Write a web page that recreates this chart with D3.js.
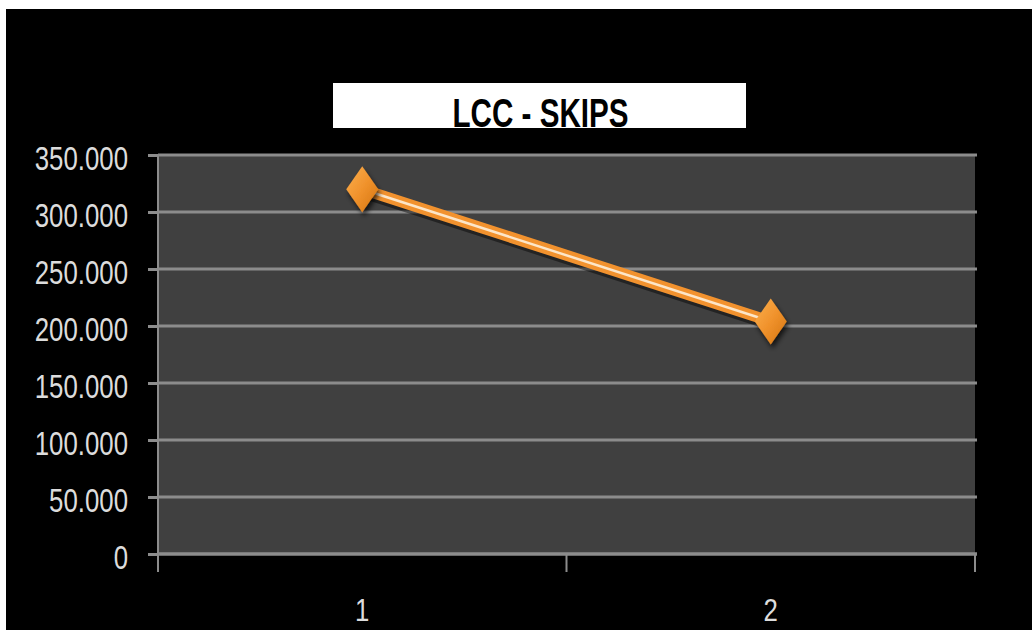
<!DOCTYPE html>
<html>
<head>
<meta charset="utf-8">
<script src="https://cdn.jsdelivr.net/npm/d3@7"></script>
<style>
  html, body { margin: 0; padding: 0; background: #ffffff; }
  svg { display: block; }
</style>
</head>
<body>
<svg id="chart" width="1032" height="630"></svg>
<script>
// Chart data
const categories = ["1", "2"];
const skips = [320000, 204000];
const yTicks = [0, 50000, 100000, 150000, 200000, 250000, 300000, 350000];
const yTickLabels = ["0", "50.000", "100.000", "150.000", "200.000", "250.000", "300.000", "350.000"];
const chartTitle = "LCC - SKIPS";

const svg = d3.select("#chart");
const W = 1032, H = 630;
const plot = { left: 158, right: 975, top: 155, bottom: 554 };

// Black page background
svg.append("rect").attr("x", 6).attr("y", 9).attr("width", W - 6).attr("height", H - 9).attr("fill", "#000");

const defs = svg.append("defs");
const grad = defs.append("linearGradient").attr("id", "diamondFill")
  .attr("x1", "0%").attr("y1", "0%").attr("x2", "100%").attr("y2", "100%");
grad.append("stop").attr("offset", "0%").attr("stop-color", "#fbb04e");
grad.append("stop").attr("offset", "50%").attr("stop-color", "#f0922c");
grad.append("stop").attr("offset", "100%").attr("stop-color", "#d4740f");
const shadow = defs.append("filter").attr("id", "shadow").attr("x", "-50%").attr("y", "-50%").attr("width", "200%").attr("height", "200%");
shadow.append("feDropShadow").attr("dx", 2).attr("dy", 4).attr("stdDeviation", 2.5).attr("flood-color", "#000").attr("flood-opacity", 0.7);
const soft = defs.append("filter").attr("id", "soft");
soft.append("feGaussianBlur").attr("stdDeviation", 0.6);

// Scales
const x = d3.scaleBand().domain(categories).range([plot.left, plot.right]).padding(0);
const y = d3.scaleLinear().domain([0, 350000]).range([plot.bottom, plot.top]);

// Plot area
svg.append("rect")
  .attr("x", plot.left).attr("y", plot.top)
  .attr("width", plot.right - plot.left).attr("height", plot.bottom - plot.top)
  .attr("fill", "#404040");

// Horizontal gridlines
svg.append("g").attr("filter", "url(#soft)")
  .selectAll("line").data(yTicks).join("line")
  .attr("x1", plot.left).attr("x2", plot.right + 2)
  .attr("y1", d => y(d)).attr("y2", d => y(d))
  .attr("stroke", "#8c8c8c").attr("stroke-width", 3);

const labelFont = "'Liberation Sans', Arial, sans-serif";

// Y axis
const yAxis = svg.append("g")
  .attr("transform", `translate(${plot.left},0)`)
  .call(d3.axisLeft(y).tickValues(yTicks).tickSize(10).tickPadding(0)
    .tickFormat((d, i) => yTickLabels[i]));
yAxis.select(".domain").attr("stroke", "#8c8c8c").attr("stroke-width", 2)
  .attr("d", `M0,${plot.top}V${plot.bottom + 18}`);
yAxis.selectAll(".tick line").attr("stroke", "#8c8c8c").attr("stroke-width", 3);
yAxis.selectAll(".tick text")
  .attr("x", 0).attr("dy", "0.36em")
  .attr("transform", "translate(-30,3) scale(0.86,1.1)")
  .attr("text-anchor", "end")
  .attr("fill", "#dcdcdc")
  .style("font-family", labelFont)
  .style("font-size", "30px");

// X axis
const xAxis = svg.append("g")
  .attr("transform", `translate(0,${plot.bottom})`)
  .call(d3.axisBottom(x).tickSize(0).tickPadding(0));
xAxis.select(".domain").attr("stroke", "#8c8c8c").attr("stroke-width", 3)
  .attr("d", `M${plot.left},0H${plot.right + 2}`);
xAxis.selectAll(".tick text")
  .attr("y", 0).attr("dy", "0")
  .attr("transform", "translate(0,67) scale(0.86,1.05)")
  .attr("fill", "#dcdcdc")
  .style("font-family", labelFont)
  .style("font-size", "30px");
xAxis.selectAll(".tick").attr("transform", d => `translate(${x(d) + x.bandwidth() / 2},0)`);
// Category boundary ticks
const bounds = categories.map(c => x(c)).concat([plot.right]);
svg.append("g").selectAll("line").data(bounds).join("line")
  .attr("x1", d => d).attr("x2", d => d)
  .attr("y1", plot.bottom).attr("y2", plot.bottom + 18)
  .attr("stroke", "#8c8c8c").attr("stroke-width", 2);

// Series line
const pts = categories.map((c, i) => [x(c) + x.bandwidth() / 2, y(skips[i])]);
const line = d3.line();
svg.append("path").attr("d", line(pts)).attr("fill", "none")
  .attr("stroke", "#000").attr("stroke-opacity", 0.45).attr("stroke-width", 11)
  .attr("transform", "translate(2,4)").attr("filter", "url(#soft)");
svg.append("path").attr("d", line(pts)).attr("fill", "none")
  .attr("stroke", "#f2922e").attr("stroke-width", 11).attr("stroke-linecap", "round");
svg.append("path").attr("d", line(pts)).attr("fill", "none")
  .attr("stroke", "#fde6c8").attr("stroke-width", 2.5).attr("stroke-linecap", "round")
  .attr("filter", "url(#soft)");

// Diamond markers
const hw = 16, hh = 23;
svg.append("g").selectAll("path").data(pts).join("path")
  .attr("d", d => `M${d[0]},${d[1] - hh}L${d[0] + hw},${d[1]}L${d[0]},${d[1] + hh}L${d[0] - hw},${d[1]}Z`)
  .attr("fill", "url(#diamondFill)")
  .attr("filter", "url(#shadow)");

// Title box
const titleBox = { x: 333, y: 83, w: 413, h: 45 };
svg.append("rect").attr("x", titleBox.x).attr("y", titleBox.y)
  .attr("width", titleBox.w).attr("height", titleBox.h).attr("fill", "#ffffff");
svg.append("text")
  .attr("transform", `translate(${titleBox.x + titleBox.w / 2 + 1},127) scale(0.8,1.12)`)
  .attr("text-anchor", "middle")
  .attr("fill", "#000")
  .style("font-family", labelFont)
  .style("font-weight", "bold")
  .style("font-size", "37px")
  .text(chartTitle);
</script>
</body>
</html>
